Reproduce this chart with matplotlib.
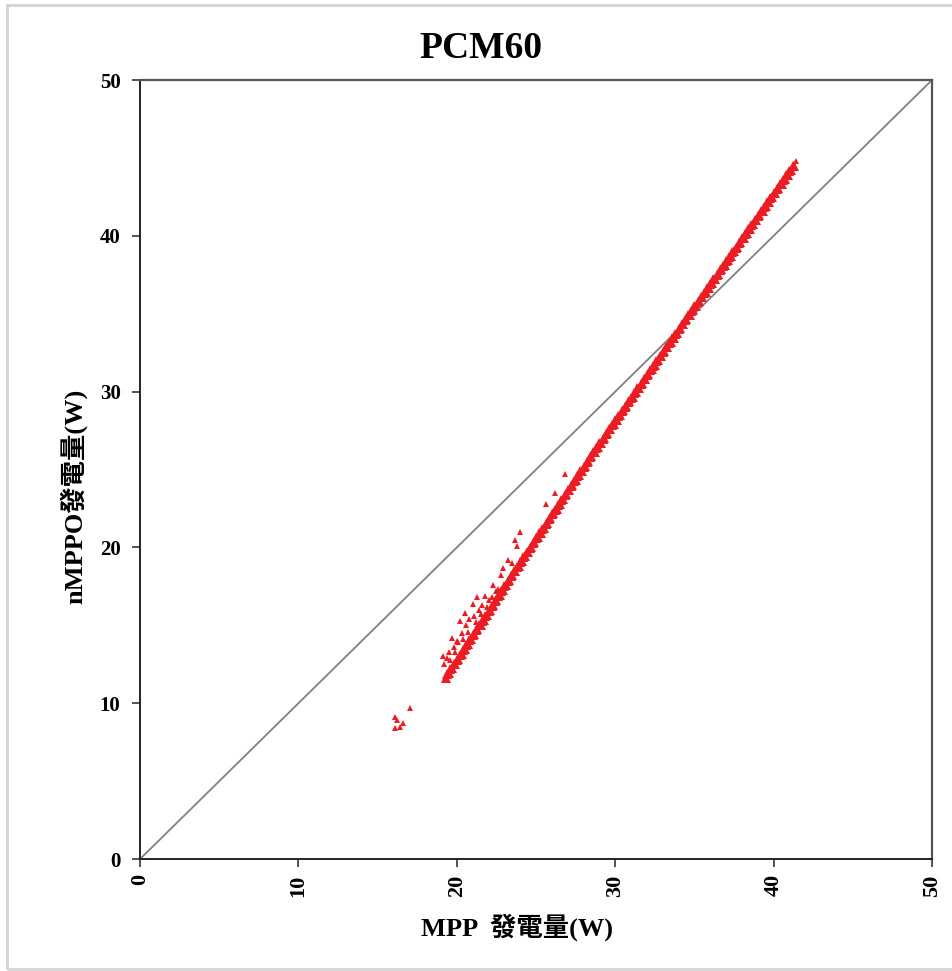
import matplotlib
matplotlib.use('Agg')
import matplotlib.pyplot as plt
from matplotlib.patches import Rectangle

# main band of points, centre row (MPP power, nMPPO power)
band_x = [19.3, 19.5, 19.7, 19.9, 20.1, 20.3, 20.5, 20.7, 20.9, 21.1, 21.3, 21.5, 21.7, 21.9,
          22.1, 22.3, 22.5, 22.7, 22.9, 23.1, 23.3, 23.5, 23.7, 23.9, 24.1, 24.3, 24.5, 24.7,
          24.9, 25.1, 25.3, 25.5, 25.7, 25.9, 26.1, 26.3, 26.5, 26.7, 26.9, 27.1, 27.3, 27.5,
          27.7, 27.9, 28.1, 28.3, 28.5, 28.7, 28.9, 29.1, 29.3, 29.5, 29.7, 29.9, 30.1, 30.3,
          30.5, 30.7, 30.9, 31.1, 31.3, 31.5, 31.7, 31.9, 32.1, 32.3, 32.5, 32.7, 32.9, 33.1,
          33.3, 33.5, 33.7, 33.9, 34.1, 34.3, 34.5, 34.7, 34.9, 35.1, 35.3, 35.5, 35.7, 35.9,
          36.1, 36.3, 36.5, 36.7, 36.9, 37.1, 37.3, 37.5, 37.7, 37.9, 38.1, 38.3, 38.5, 38.7,
          38.9, 39.1, 39.3, 39.5, 39.7, 39.9, 40.1, 40.3, 40.5, 40.7, 40.9, 41.1, 41.3]
band_y = [11.60, 11.91, 12.23, 12.54, 12.86, 13.17, 13.48, 13.80, 14.11, 14.43, 14.74, 15.05,
          15.37, 15.68, 16.00, 16.31, 16.62, 16.94, 17.25, 17.57, 17.88, 18.20, 18.51, 18.81,
          19.12, 19.42, 19.73, 20.04, 20.34, 20.65, 20.95, 21.26, 21.57, 21.87, 22.18, 22.48,
          22.79, 23.09, 23.40, 23.71, 24.01, 24.32, 24.62, 24.93, 25.24, 25.54, 25.85, 26.15,
          26.44, 26.73, 27.03, 27.32, 27.61, 27.91, 28.20, 28.49, 28.79, 29.08, 29.37, 29.66,
          29.96, 30.25, 30.54, 30.84, 31.13, 31.42, 31.72, 32.01, 32.30, 32.60, 32.89, 33.18,
          33.47, 33.77, 34.06, 34.35, 34.65, 34.94, 35.23, 35.52, 35.81, 36.10, 36.39, 36.68,
          36.97, 37.26, 37.55, 37.84, 38.13, 38.42, 38.71, 39.00, 39.29, 39.58, 39.87, 40.16,
          40.45, 40.74, 41.03, 41.32, 41.61, 41.90, 42.19, 42.48, 42.77, 43.06, 43.35, 43.64,
          43.93, 44.22, 44.51]

# upper edge of the band
edge_x = [19.4, 19.6, 19.8, 20.0, 20.2, 20.4, 20.6, 20.8, 21.0, 21.2, 21.4, 21.6, 21.8, 22.0,
          22.2, 22.4, 22.6, 22.8, 23.0, 23.2, 23.4, 23.6, 23.8, 24.0, 24.2, 24.4, 24.6, 24.8,
          25.0, 25.2, 25.4, 25.6, 25.8, 26.0, 26.2, 26.4, 26.6, 26.8, 27.0, 27.2, 27.4, 27.6,
          27.8, 28.0, 28.2, 28.4, 28.6, 28.8, 29.0, 29.2, 29.4, 29.6, 29.8, 30.0, 30.2, 30.4,
          30.6, 30.8, 31.0, 31.2, 31.4, 31.6, 31.8, 32.0, 32.2, 32.4, 32.6, 32.8, 33.0, 33.2,
          33.4, 33.6, 33.8, 34.0, 34.2, 34.4, 34.6, 34.8, 35.0, 35.2, 35.4, 35.6, 35.8, 36.0,
          36.2, 36.4, 36.6, 36.8, 37.0, 37.2, 37.4, 37.6, 37.8, 38.0, 38.2, 38.4, 38.6, 38.8,
          39.0, 39.2, 39.4, 39.6, 39.8, 40.0, 40.2, 40.4, 40.6, 40.8, 41.0, 41.2]
edge_y = [11.86, 12.17, 12.49, 12.80, 13.12, 13.43, 13.74, 14.06, 14.37, 14.69, 15.00, 15.31,
          15.63, 15.94, 16.26, 16.57, 16.88, 17.20, 17.51, 17.83, 18.14, 18.46, 18.76, 19.07,
          19.37, 19.68, 19.99, 20.29, 20.60, 20.90, 21.21, 21.52, 21.82, 22.13, 22.43, 22.74,
          23.04, 23.35, 23.66, 23.96, 24.27, 24.57, 24.88, 25.19, 25.49, 25.80, 26.10, 26.40,
          26.69, 26.98, 27.28, 27.57, 27.86, 28.16, 28.45, 28.74, 29.04, 29.33, 29.62, 29.91,
          30.21, 30.50, 30.79, 31.09, 31.38, 31.67, 31.97, 32.26, 32.55, 32.85, 33.14, 33.43,
          33.72, 34.02, 34.31, 34.60, 34.90, 35.19, 35.48, 35.77, 36.06, 36.35, 36.64, 36.93,
          37.22, 37.51, 37.80, 38.09, 38.38, 38.67, 38.96, 39.25, 39.54, 39.83, 40.12, 40.41,
          40.70, 40.99, 41.28, 41.57, 41.86, 42.15, 42.44, 42.73, 43.02, 43.31, 43.60, 43.89,
          44.18, 44.47]

# spread of points above the band at low power
cluster_x = [19.1, 19.2, 19.4, 19.5, 19.7, 19.8, 20.0, 20.1, 20.2, 20.3, 20.5, 20.6, 20.8,
             21.0, 21.1, 21.3, 21.4, 21.6, 21.8, 22.0, 22.3, 22.5, 22.8, 22.9, 23.2, 23.5,
             23.7, 23.8, 24.0, 25.6, 26.2, 26.8, 41.4,
             19.6, 19.9, 20.4, 20.7, 21.2, 21.5, 21.9, 22.2, 22.6]
cluster_y = [13.0, 12.5, 12.9, 13.3, 14.2, 13.6, 14.0, 13.9, 15.3, 14.5, 15.8, 15.0, 15.4,
             16.4, 15.6, 16.8, 16.0, 16.3, 16.9, 16.6, 17.6, 17.2, 18.2, 18.7, 19.2, 19.0,
             20.5, 20.1, 21.0, 22.8, 23.5, 24.7, 44.8,
             12.8, 13.3, 14.1, 14.6, 15.2, 15.7, 16.2, 16.8, 17.3]

# isolated low points
low_x = [16.1, 16.2, 16.4, 16.6, 16.1, 17.05]
low_y = [9.1, 8.9, 8.5, 8.7, 8.4, 9.7]

ticks = [0, 10, 20, 30, 40, 50]

serif = ['Liberation Serif', 'Noto Sans CJK TC', 'DejaVu Serif']
red = '#ec1c24'

fig = plt.figure(figsize=(9.52, 9.71), dpi=100)
fig.patches.append(Rectangle((0.0074, 0.002), 1.1, 0.993, transform=fig.transFigure,
                             fill=False, edgecolor='#d4d4d4', linewidth=2))
ax = fig.add_axes([0.1471, 0.1153, 0.8319, 0.8023])

ax.plot([0, 50], [0, 50], color='#808080', linewidth=1.3, zorder=1)
ax.plot(band_x, band_y, linestyle='none', marker='^', markersize=7.5, color=red,
        markeredgewidth=0, zorder=3)
ax.plot(edge_x, edge_y, linestyle='none', marker='^', markersize=7.5, color=red,
        markeredgewidth=0, zorder=3)
ax.plot(cluster_x, cluster_y, linestyle='none', marker='^', markersize=5, color=red,
        markeredgewidth=0, zorder=3)
ax.plot(low_x, low_y, linestyle='none', marker='^', markersize=4.5, color=red,
        markeredgewidth=0, zorder=3)

ax.set_xlim(0, 50)
ax.set_ylim(0, 50)
ax.set_xticks(ticks)
ax.set_yticks(ticks)
ax.set_xticklabels([str(t) for t in ticks], rotation=90, family=serif,
                   fontweight='bold', fontsize=16)
ax.set_yticklabels([str(t) for t in ticks], family=serif, fontweight='bold', fontsize=15)
ax.tick_params(direction='out', length=6, width=1.2, color='#333333')
ax.tick_params(axis='y', pad=8)
ax.tick_params(axis='x', pad=5)

for side in ['left', 'bottom']:
    ax.spines[side].set_color('#222222')
    ax.spines[side].set_linewidth(1.4)
for side in ['top', 'right']:
    ax.spines[side].set_color('#555555')
    ax.spines[side].set_linewidth(1.6)

ax.set_xlabel('MPP  發電量(W)', family=serif, fontweight='bold', fontsize=19)
ax.xaxis.set_label_coords(0.476, -0.07)
ax.set_ylabel('nMPPO發電量(W)', family=serif, fontweight='bold', fontsize=19)
ax.yaxis.set_label_coords(-0.066, 0.465)

fig.text(481 / 952, 1 - 48 / 971, 'PCM60', family=serif, fontweight='bold',
         fontsize=27, ha='center', va='center')

fig.savefig('out.png', dpi=100)
